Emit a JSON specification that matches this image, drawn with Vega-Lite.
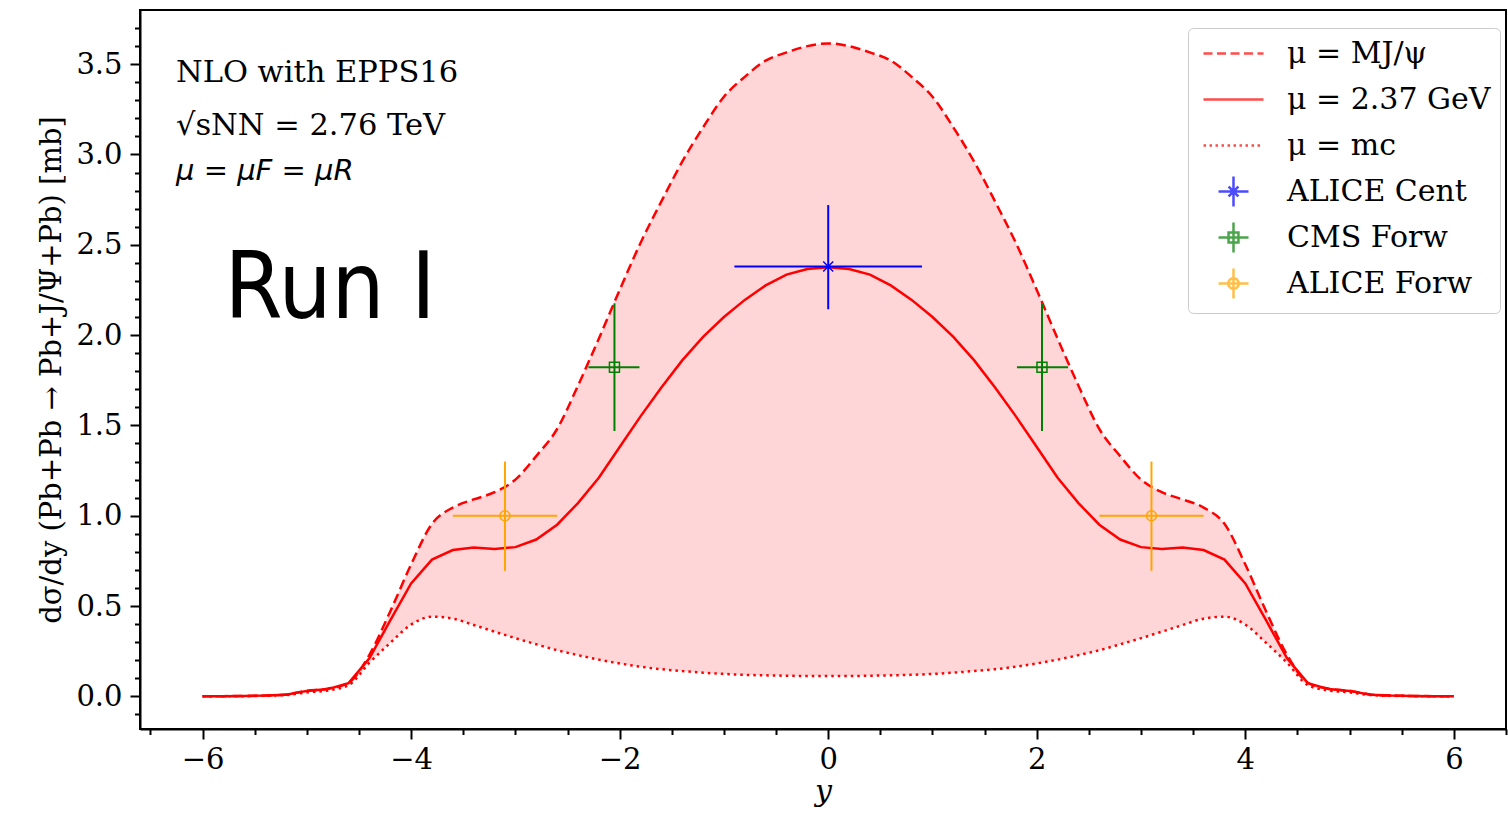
{
"$schema": "https://vega.github.io/schema/vega-lite/v6.json",
"width": 1366,
"height": 719,
"autosize": {"type": "none"},
"padding": {"left": 140, "top": 10, "right": 2, "bottom": 87},
"background": "white",
"config": {
  "view": {"stroke": "black", "strokeWidth": 2},
  "font": "DejaVu Serif",
  "axis": {
    "labelFont": "DejaVu Serif", "labelFontSize": 29, "labelColor": "black",
    "titleFont": "DejaVu Serif", "titleFontWeight": "normal", "titleColor": "black",
    "tickColor": "black", "tickWidth": 2, "tickSize": 10,
    "domainColor": "black", "domainWidth": 2, "grid": false,
    "labelFlush": false, "labelOverlap": false
  },
  "legend": {
    "orient": "none", "legendX": 1048, "legendY": 18,
    "padding": 9, "symbolOffset": 20, "labelOffset": 37,
    "symbolSize": 900, "symbolStrokeWidth": 2.5,
    "labelFont": "DejaVu Serif", "labelFontSize": 30, "labelColor": "black", "labelLimit": 500,
    "rowPadding": 5, "gridAlign": "all",
    "strokeColor": "#cccccc", "fillColor": "rgba(255,255,255,0.8)", "cornerRadius": 5
  }
},
"datasets": {
  "curves": [
    {"rap": -6.0, "hi": 0, "mid": 0, "lo": 0},
    {"rap": -5.8, "hi": 0.001, "mid": 0.001, "lo": 0},
    {"rap": -5.6, "hi": 0.002, "mid": 0.002, "lo": 0.001},
    {"rap": -5.4, "hi": 0.004, "mid": 0.004, "lo": 0.003},
    {"rap": -5.2, "hi": 0.01, "mid": 0.009, "lo": 0.007},
    {"rap": -5.0, "hi": 0.031, "mid": 0.03, "lo": 0.022},
    {"rap": -4.8, "hi": 0.042, "mid": 0.04, "lo": 0.032},
    {"rap": -4.6, "hi": 0.075, "mid": 0.073, "lo": 0.062},
    {"rap": -4.4, "hi": 0.23, "mid": 0.21, "lo": 0.186},
    {"rap": -4.2, "hi": 0.47, "mid": 0.42, "lo": 0.296},
    {"rap": -4.0, "hi": 0.73, "mid": 0.625, "lo": 0.397},
    {"rap": -3.8, "hi": 0.955, "mid": 0.757, "lo": 0.441},
    {"rap": -3.6, "hi": 1.045, "mid": 0.81, "lo": 0.43},
    {"rap": -3.4, "hi": 1.09, "mid": 0.824, "lo": 0.395},
    {"rap": -3.2, "hi": 1.13, "mid": 0.816, "lo": 0.358},
    {"rap": -3.0, "hi": 1.2, "mid": 0.826, "lo": 0.322},
    {"rap": -2.8, "hi": 1.33, "mid": 0.868, "lo": 0.288},
    {"rap": -2.6, "hi": 1.48, "mid": 0.95, "lo": 0.255},
    {"rap": -2.4, "hi": 1.72, "mid": 1.07, "lo": 0.228},
    {"rap": -2.2, "hi": 1.98, "mid": 1.21, "lo": 0.203},
    {"rap": -2.0, "hi": 2.25, "mid": 1.38, "lo": 0.182},
    {"rap": -1.8, "hi": 2.51, "mid": 1.55, "lo": 0.164},
    {"rap": -1.6, "hi": 2.74, "mid": 1.71, "lo": 0.15},
    {"rap": -1.4, "hi": 2.96, "mid": 1.86, "lo": 0.14},
    {"rap": -1.2, "hi": 3.15, "mid": 1.99, "lo": 0.131},
    {"rap": -1.0, "hi": 3.32, "mid": 2.1, "lo": 0.124},
    {"rap": -0.8, "hi": 3.43, "mid": 2.195, "lo": 0.119},
    {"rap": -0.6, "hi": 3.52, "mid": 2.275, "lo": 0.116},
    {"rap": -0.4, "hi": 3.565, "mid": 2.335, "lo": 0.114},
    {"rap": -0.2, "hi": 3.6, "mid": 2.366, "lo": 0.112},
    {"rap": 0.0, "hi": 3.615, "mid": 2.376, "lo": 0.112},
    {"rap": 0.2, "hi": 3.6, "mid": 2.366, "lo": 0.112},
    {"rap": 0.4, "hi": 3.565, "mid": 2.335, "lo": 0.114},
    {"rap": 0.6, "hi": 3.52, "mid": 2.275, "lo": 0.116},
    {"rap": 0.8, "hi": 3.43, "mid": 2.195, "lo": 0.119},
    {"rap": 1.0, "hi": 3.32, "mid": 2.1, "lo": 0.124},
    {"rap": 1.2, "hi": 3.15, "mid": 1.99, "lo": 0.131},
    {"rap": 1.4, "hi": 2.96, "mid": 1.86, "lo": 0.14},
    {"rap": 1.6, "hi": 2.74, "mid": 1.71, "lo": 0.15},
    {"rap": 1.8, "hi": 2.51, "mid": 1.55, "lo": 0.164},
    {"rap": 2.0, "hi": 2.25, "mid": 1.38, "lo": 0.182},
    {"rap": 2.2, "hi": 1.98, "mid": 1.21, "lo": 0.203},
    {"rap": 2.4, "hi": 1.72, "mid": 1.07, "lo": 0.228},
    {"rap": 2.6, "hi": 1.48, "mid": 0.95, "lo": 0.255},
    {"rap": 2.8, "hi": 1.33, "mid": 0.868, "lo": 0.288},
    {"rap": 3.0, "hi": 1.2, "mid": 0.826, "lo": 0.322},
    {"rap": 3.2, "hi": 1.13, "mid": 0.816, "lo": 0.358},
    {"rap": 3.4, "hi": 1.09, "mid": 0.824, "lo": 0.395},
    {"rap": 3.6, "hi": 1.045, "mid": 0.81, "lo": 0.43},
    {"rap": 3.8, "hi": 0.955, "mid": 0.757, "lo": 0.441},
    {"rap": 4.0, "hi": 0.73, "mid": 0.625, "lo": 0.397},
    {"rap": 4.2, "hi": 0.47, "mid": 0.42, "lo": 0.296},
    {"rap": 4.4, "hi": 0.23, "mid": 0.21, "lo": 0.186},
    {"rap": 4.6, "hi": 0.075, "mid": 0.073, "lo": 0.062},
    {"rap": 4.8, "hi": 0.042, "mid": 0.04, "lo": 0.032},
    {"rap": 5.0, "hi": 0.031, "mid": 0.03, "lo": 0.022},
    {"rap": 5.2, "hi": 0.01, "mid": 0.009, "lo": 0.007},
    {"rap": 5.4, "hi": 0.004, "mid": 0.004, "lo": 0.003},
    {"rap": 5.6, "hi": 0.002, "mid": 0.002, "lo": 0.001},
    {"rap": 5.8, "hi": 0.001, "mid": 0.001, "lo": 0},
    {"rap": 6.0, "hi": 0, "mid": 0, "lo": 0}
  ],
  "pts": [
    {"series": "ALICE Cent", "rap": 0.0, "val": 2.38, "xlo": -0.9, "xhi": 0.9, "ylo": 2.143, "yhi": 2.72},
    {"series": "CMS Forw", "rap": -2.05, "val": 1.822, "xlo": -2.3, "xhi": -1.81, "ylo": 1.469, "yhi": 2.176},
    {"series": "CMS Forw", "rap": 2.05, "val": 1.822, "xlo": 1.81, "xhi": 2.3, "ylo": 1.469, "yhi": 2.176},
    {"series": "ALICE Forw", "rap": -3.1, "val": 1.0, "xlo": -3.6, "xhi": -2.6, "ylo": 0.695, "yhi": 1.3},
    {"series": "ALICE Forw", "rap": 3.1, "val": 1.0, "xlo": 2.6, "xhi": 3.6, "ylo": 0.695, "yhi": 1.3}
  ],
  "leg": [
    {"series": "μ = MJ/ψ"},
    {"series": "μ = 2.37 GeV"},
    {"series": "μ = mc"},
    {"series": "ALICE Cent"},
    {"series": "CMS Forw"},
    {"series": "ALICE Forw"}
  ]
},
"layer": [
  {
    "data": {"name": "curves"},
    "mark": {"type": "area", "color": "#ffd6d8", "opacity": 1, "interpolate": "monotone"},
    "encoding": {
      "x": {"field": "rap", "type": "quantitative",
        "scale": {"domain": [-6.6, 6.5], "nice": false, "zero": false},
        "axis": {
          "title": "y", "titleFontStyle": "italic", "titleFontSize": 30, "titlePadding": 2,
          "tickCount": 200,
          "values": [-6.5, -6, -5.5, -5, -4.5, -4, -3.5, -3, -2.5, -2, -1.5, -1, -0.5, 0, 0.5, 1, 1.5, 2, 2.5, 3, 3.5, 4, 4.5, 5, 5.5, 6, 6.5],
          "labelExpr": "abs(datum.value/2 - round(datum.value/2)) < 0.001 ? replace(format(datum.value, 'd'), '-', '−') : ''",
          "labelPadding": 6, "labelOverlap": false, "labelFlush": false, "labelBound": false,
          "tickDash": {"condition": {"test": "abs(datum.value/2 - round(datum.value/2)) > 0.001", "value": [5.5, 40]}, "value": [10, 0]}
        }
      },
      "y": {"field": "hi", "type": "quantitative",
        "scale": {"domain": [-0.181, 3.8], "nice": false, "zero": false},
        "axis": {
          "title": "dσ/dy (Pb+Pb → Pb+J/Ψ+Pb) [mb]", "titleFontSize": 29, "titlePadding": 9,
          "tickCount": 200,
          "values": [-0.1, 0, 0.1, 0.2, 0.3, 0.4, 0.5, 0.6, 0.7, 0.8, 0.9, 1, 1.1, 1.2, 1.3, 1.4, 1.5, 1.6, 1.7, 1.8, 1.9, 2, 2.1, 2.2, 2.3, 2.4, 2.5, 2.6, 2.7, 2.8, 2.9, 3, 3.1, 3.2, 3.3, 3.4, 3.5, 3.6, 3.7],
          "labelExpr": "abs(datum.value*2 - round(datum.value*2)) < 0.001 ? format(datum.value, '.1f') : ''",
          "labelPadding": 8, "labelOverlap": false, "labelFlush": false, "labelBound": false,
          "tickDash": {"condition": {"test": "abs(datum.value*2 - round(datum.value*2)) > 0.001", "value": [5.5, 40]}, "value": [10, 0]}
        }
      },
      "y2": {"field": "lo"}
    }
  },
  {
    "data": {"name": "curves"},
    "mark": {"type": "line", "color": "red", "strokeWidth": 2.5, "strokeDash": [2.5, 4], "interpolate": "monotone"},
    "encoding": {
      "x": {"field": "rap", "type": "quantitative"},
      "y": {"field": "lo", "type": "quantitative"}
    }
  },
  {
    "data": {"name": "curves"},
    "mark": {"type": "line", "color": "red", "strokeWidth": 2.5, "strokeDash": [10, 5], "interpolate": "monotone"},
    "encoding": {
      "x": {"field": "rap", "type": "quantitative"},
      "y": {"field": "hi", "type": "quantitative"}
    }
  },
  {
    "data": {"name": "curves"},
    "mark": {"type": "line", "color": "red", "strokeWidth": 2.5},
    "encoding": {
      "x": {"field": "rap", "type": "quantitative"},
      "y": {"field": "mid", "type": "quantitative"}
    }
  },
  {
    "data": {"name": "pts"},
    "mark": {"type": "rule", "strokeWidth": 2},
    "encoding": {
      "x": {"field": "xlo", "type": "quantitative"},
      "x2": {"field": "xhi"},
      "y": {"field": "val", "type": "quantitative"},
      "color": {"condition": [{"test": "datum.series === 'ALICE Cent'", "value": "blue"}, {"test": "datum.series === 'CMS Forw'", "value": "green"}], "value": "orange"}
    }
  },
  {
    "data": {"name": "pts"},
    "mark": {"type": "rule", "strokeWidth": 2},
    "encoding": {
      "x": {"field": "rap", "type": "quantitative"},
      "y": {"field": "ylo", "type": "quantitative"},
      "y2": {"field": "yhi"},
      "color": {"condition": [{"test": "datum.series === 'ALICE Cent'", "value": "blue"}, {"test": "datum.series === 'CMS Forw'", "value": "green"}], "value": "orange"}
    }
  },
  {
    "data": {"name": "pts"},
    "mark": {"type": "point", "filled": false, "strokeWidth": 1.5, "size": 100, "opacity": 1},
    "encoding": {
      "x": {"field": "rap", "type": "quantitative"},
      "y": {"field": "val", "type": "quantitative"},
      "shape": {"condition": [{"test": "datum.series === 'ALICE Cent'", "value": "M-1,-1L1,1M1,-1L-1,1"}, {"test": "datum.series === 'CMS Forw'", "value": "square"}], "value": "circle"},
      "color": {"condition": [{"test": "datum.series === 'ALICE Cent'", "value": "blue"}, {"test": "datum.series === 'CMS Forw'", "value": "green"}], "value": "orange"}
    }
  },
  {
    "data": {"name": "leg"},
    "mark": {"type": "point", "filled": false, "strokeWidth": 2.5, "clip": true},
    "encoding": {
      "x": {"datum": 100, "type": "quantitative"},
      "y": {"datum": 100, "type": "quantitative"},
      "color": {"field": "series", "type": "nominal", "legend": {"title": null},
        "scale": {"domain": ["μ = MJ/ψ", "μ = 2.37 GeV", "μ = mc", "ALICE Cent", "CMS Forw", "ALICE Forw"], "range": ["red", "red", "red", "blue", "green", "orange"]}},
      "shape": {"field": "series", "type": "nominal", "legend": {"title": null},
        "scale": {"domain": ["μ = MJ/ψ", "μ = 2.37 GeV", "μ = mc", "ALICE Cent", "CMS Forw", "ALICE Forw"],
          "range": ["M-2,0H2", "M-2,0H2", "M-2,0H2",
            "M-1,0H1M0,-1V1M-0.33,-0.33L0.33,0.33M0.33,-0.33L-0.33,0.33",
            "M-1,0H1M0,-1V1M-0.33,-0.33H0.33V0.33H-0.33Z",
            "M-1,0H1M0,-1V1M0.35,0A0.35,0.35 0 1,1 -0.35,0A0.35,0.35 0 1,1 0.35,0"]}},
      "strokeDash": {"field": "series", "type": "nominal", "legend": {"title": null},
        "scale": {"domain": ["μ = MJ/ψ", "μ = 2.37 GeV", "μ = mc", "ALICE Cent", "CMS Forw", "ALICE Forw"],
          "range": [[9, 4.5], [1, 0], [2.5, 3.5], [1, 0], [1, 0], [1, 0]]}}
    }
  },
  {
    "data": {"values": [{"label": "NLO with EPPS16"}]},
    "mark": {"type": "text", "align": "left", "baseline": "alphabetic", "font": "DejaVu Serif", "fontSize": 30.5, "color": "black"},
    "encoding": {
      "x": {"datum": -6.255, "type": "quantitative"},
      "y": {"datum": 3.403, "type": "quantitative"},
      "text": {"field": "label"}
    }
  },
  {
    "data": {"values": [{"label": "√sNN = 2.76 TeV"}]},
    "mark": {"type": "text", "align": "left", "baseline": "alphabetic", "font": "DejaVu Serif", "fontSize": 30.5, "color": "black"},
    "encoding": {
      "x": {"datum": -6.255, "type": "quantitative"},
      "y": {"datum": 3.108, "type": "quantitative"},
      "text": {"field": "label"}
    }
  },
  {
    "data": {"values": [{"label": "μ = μF = μR"}]},
    "mark": {"type": "text", "align": "left", "baseline": "alphabetic", "font": "DejaVu Sans", "fontStyle": "italic", "fontSize": 29, "color": "black"},
    "encoding": {
      "x": {"datum": -6.255, "type": "quantitative"},
      "y": {"datum": 2.86, "type": "quantitative"},
      "text": {"field": "label"}
    }
  },
  {
    "data": {"values": [{"label": "Run  I"}]},
    "mark": {"type": "text", "align": "left", "baseline": "alphabetic", "font": "Liberation Sans Narrow, DejaVu Sans Condensed, DejaVu Sans", "fontSize": 93, "color": "black"},
    "encoding": {
      "x": {"datum": -5.79, "type": "quantitative"},
      "y": {"datum": 2.095, "type": "quantitative"},
      "text": {"field": "label"}
    }
  }
]
}
